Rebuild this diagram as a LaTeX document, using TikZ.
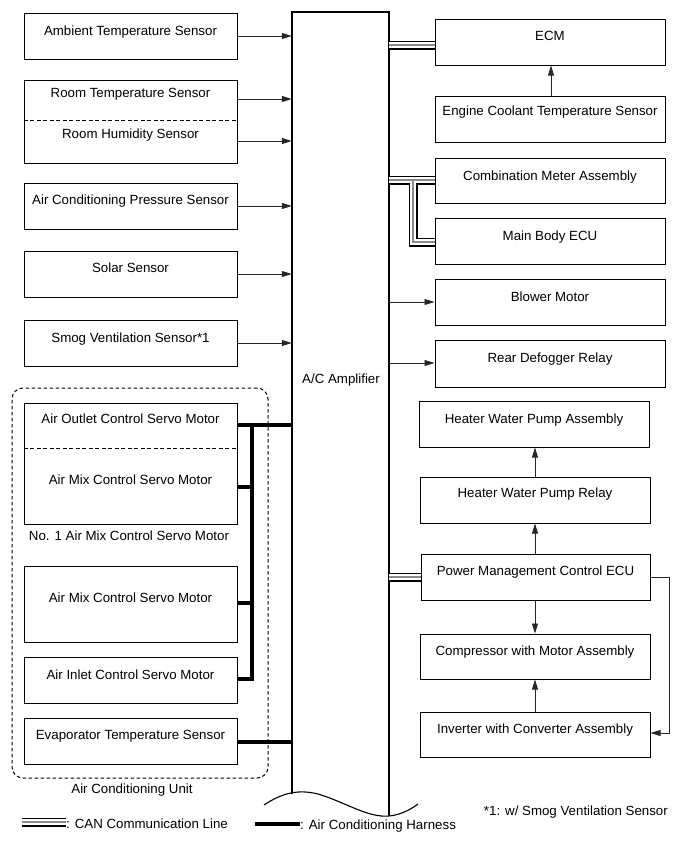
\documentclass[tikz,border=0pt]{standalone}
\usepackage{fontspec}
\setmainfont{Liberation Sans}
\usetikzlibrary{arrows.meta,fit}
\tikzset{
  bx/.style={draw=black, line width=1pt, inner sep=0pt, rectangle},
  txt/.style={anchor=base, inner sep=0pt, font=\fontsize{13.3}{15}\selectfont},
  arr/.style={-{Triangle[length=10pt,width=6pt]}, line width=0.8pt, draw=black!85},
  harn/.style={line width=3.6pt, draw=black, line join=miter},
  canblack/.style={line width=9pt, draw=black, line join=miter},
  canwhite/.style={line width=5.4pt, draw=white, line join=miter},
  cangrey/.style={line width=1.3pt, draw=black!45, line join=miter},
  sep/.style={dashed, dash pattern=on 4pt off 2.5pt, line width=0.8pt},
  unitbox/.style={draw=black, dashed, dash pattern=on 3.5pt off 2.5pt, line width=1pt, rounded corners=11pt, inner sep=0pt},
  ampline/.style={line width=2.4pt, draw=black, line join=miter}
}
\newcommand\mkbox[7]{%
  \node[bx, fit={(#2,#3) (#4,#5)}] (#1) {};
  \node[txt] (#1-t) at ({(#2+#4)/2},#6) {#7};}
\begin{document}
\begin{tikzpicture}[x=1pt,y=-1pt]
\useasboundingbox (0,0) rectangle (691,854);
% A/C amplifier
\node[inner sep=0pt, fit={(292,12) (389,816)}] (amp) {};
\draw[ampline] (amp.west |- 0,794) -- (amp.north west) -- (amp.north east) -- (amp.east |- 0,816);
\draw[line width=1.1pt] (264,805) .. controls (282,793) and (298,789) .. (318,794)
  .. controls (345,802) and (368,818) .. (389,816) .. controls (400,815) and (410,810) .. (418,804);
\node[txt] (amp-t) at (341,383) {A/C Amplifier};
% air conditioning unit frame
\node[unitbox, fit={(12,388) (268,778)}] (unit) {};
\node[txt] (unit-t) at (132,793) {Air Conditioning Unit};
% left boxes
\mkbox{amb}{24}{13}{237}{59}{35}{Ambient Temperature Sensor}
\mkbox{room}{24}{80}{237}{163}{97}{Room Temperature Sensor}
\node[txt] (hum-t) at (130.5,138) {Room Humidity Sensor};
\draw[sep] (room.west |- 0,120) -- (room.east |- 0,120);
\mkbox{press}{24}{183}{237}{229}{204}{Air Conditioning Pressure Sensor}
\mkbox{solar}{24}{251}{237}{297}{272}{Solar Sensor}
\mkbox{smog}{24}{320}{237}{366}{342}{Smog Ventilation Sensor*1}
\mkbox{mixa}{24}{403}{237}{524}{423}{Air Outlet Control Servo Motor}
\node[txt] (mixa-t2) at (130.5,484) {Air Mix Control Servo Motor};
\draw[sep] (mixa.west |- 0,448) -- (mixa.east |- 0,448);
\node[txt] (mixa-l) at (129,540) {No. 1 Air Mix Control Servo Motor};
\mkbox{mixb}{24}{566}{237}{642}{602}{Air Mix Control Servo Motor}
\mkbox{inlet}{24}{657}{237}{703}{679}{Air Inlet Control Servo Motor}
\mkbox{evap}{24}{718}{237}{764}{739}{Evaporator Temperature Sensor}
% right boxes
\mkbox{ecm}{435}{19}{665}{65}{40}{ECM}
\mkbox{ect}{435}{96}{665}{142}{115}{Engine Coolant Temperature Sensor}
\mkbox{comb}{435}{158}{665}{203}{180}{Combination Meter Assembly}
\mkbox{mbecu}{435}{218}{665}{264}{240}{Main Body ECU}
\mkbox{blow}{435}{279}{665}{325}{301}{Blower Motor}
\mkbox{rdef}{435}{340}{665}{387}{362}{Rear Defogger Relay}
\mkbox{hwpa}{419}{401}{649}{447}{423}{Heater Water Pump Assembly}
\mkbox{hwpr}{420}{477}{650}{523}{497}{Heater Water Pump Relay}
\mkbox{pm}{421}{554}{650}{600}{575}{Power Management Control ECU}
\mkbox{comp}{420}{634}{650}{679}{655}{Compressor with Motor Assembly}
\mkbox{inv}{420}{712}{650}{757}{733}{Inverter with Converter Assembly}
% sensor arrows
\draw[arr] (amb.east |- 0,36) -- (amp.west |- 0,36);
\draw[arr] (room.east |- 0,99) -- (amp.west |- 0,99);
\draw[arr] (room.east |- 0,141) -- (amp.west |- 0,141);
\draw[arr] (press.east |- 0,206) -- (amp.west |- 0,206);
\draw[arr] (solar.east |- 0,274) -- (amp.west |- 0,274);
\draw[arr] (smog.east |- 0,343) -- (amp.west |- 0,343);
% outputs
\draw[arr] (amp.east |- 0,302) -- (blow.west |- 0,302);
\draw[arr] (amp.east |- 0,363) -- (rdef.west |- 0,363);
\draw[arr] (ect.north -| 551,0) -- (ecm.south -| 551,0);
\draw[arr] (hwpr.north -| 535,0) -- (hwpa.south -| 535,0);
\draw[arr] (pm.north -| 535,0) -- (hwpr.south -| 535,0);
\draw[arr] (pm.south -| 535,0) -- (comp.north -| 535,0);
\draw[arr] (inv.north -| 535,0) -- (comp.south -| 535,0);
\draw[arr] (pm.east |- 0,577) -- (669,577) -- (669,733) -- (inv.east |- 0,733);
% harness
\coordinate (hj) at (252,425);
\draw[harn] (mixa.east |- 0,425) -- (amp.west |- 0,425);
\draw[harn] (hj) -- (hj |- 0,679) -- (inlet.east |- 0,679);
\draw[harn] (mixa.east |- 0,487) -- (hj |- 0,487);
\draw[harn] (mixb.east |- 0,603) -- (hj |- 0,603);
\draw[harn] (evap.east |- 0,742) -- (amp.west |- 0,742);
% CAN lines
\coordinate (cj) at (413,180);
\coordinate (lgc1) at (22,822);
\coordinate (lgc2) at (66,822);
\foreach \s in {canblack,canwhite,cangrey}{
  \draw[\s] (amp.east |- 0,45) -- (ecm.west |- 0,45);
  \draw[\s] (amp.east |- 0,180) -- (comb.west |- 0,180);
  \draw[\s] (cj) -- (cj |- 0,242) -- (mbecu.west |- 0,242);
  \draw[\s] (amp.east |- 0,577) -- (pm.west |- 0,577);
  \draw[\s] (lgc1) -- (lgc2);
}
% legend
\node[txt, anchor=base west] (lg1) at (66,828) {: CAN Communication Line};
\coordinate (lgh1) at (255,824);
\coordinate (lgh2) at (300,824);
\draw[harn] (lgh1) -- (lgh2);
\node[txt, anchor=base west] (lg2) at (300,829) {: Air Conditioning Harness};
\node[txt, anchor=base east] (note) at (668,815) {*1: w/ Smog Ventilation Sensor};
\end{tikzpicture}
\end{document}
